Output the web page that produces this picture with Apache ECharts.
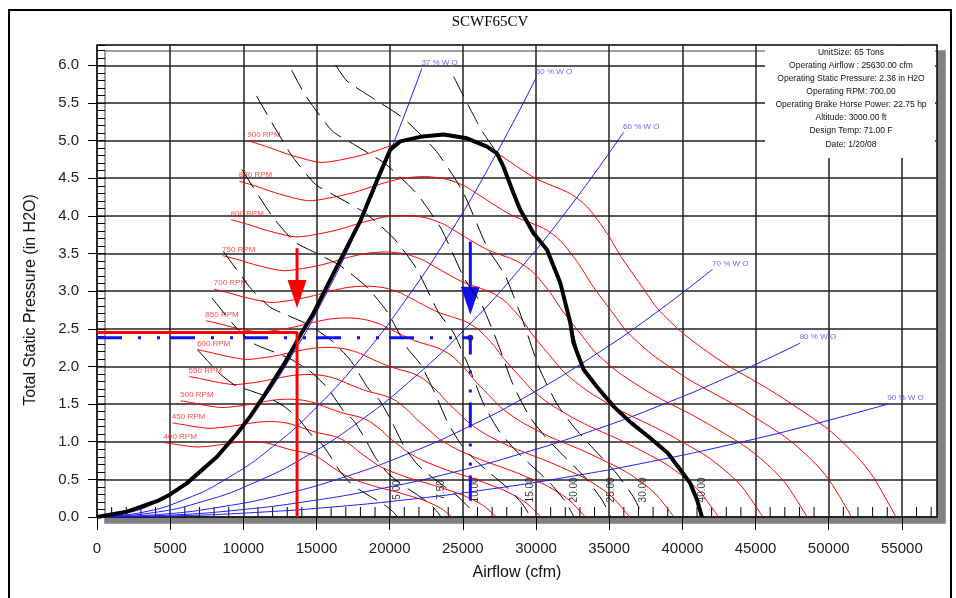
<!DOCTYPE html>
<html><head><meta charset="utf-8">
<script src="https://cdn.jsdelivr.net/npm/echarts@6/dist/echarts.min.js"></script>
<style>html,body{margin:0;padding:0;background:#fff}#c{width:956px;height:598px}</style>
</head><body><div id="c"></div>
<script>
// ---------- axis ticks ----------
const xTickValues = [0,5000,10000,15000,20000,25000,30000,35000,40000,45000,50000,55000];
const xMinorTickValues = [1000,2000,3000,4000,6000,7000,8000,9000,11000,12000,13000,14000,16000,17000,18000,19000,21000,22000,23000,24000,26000,27000,28000,29000,31000,32000,33000,34000,36000,37000,38000,39000,41000,42000,43000,44000,46000,47000,48000,49000,51000,52000,53000,54000,56000,57000];
const yTickValues = [0,0.5,1,1.5,2,2.5,3,3.5,4,4.5,5,5.5,6];

// ---------- fan curves (airflow cfm, static pressure in H2O) ----------
const rpmNames = ['400 RPM','450 RPM','500 RPM','550 RPM','600 RPM','650 RPM','700 RPM','750 RPM','800 RPM','850 RPM','900 RPM'];
const rpm900 = [[10300,5.00],[11600,4.92],[13200,4.81],[15400,4.71],[17300,4.77],[18700,4.84],[20200,4.94],[22000,5.04],[23700,5.07],[25300,5.03],[26700,4.92],[27300,4.84],[29950,4.50],[32300,4.30],[33500,4.12],[34850,3.77],[35800,3.46],[37350,3.03],[38300,2.77],[40100,2.43],[42800,2.05],[45800,1.71],[47250,1.53],[50000,1.16],[51950,0.80],[53050,0.53],[54600,0]];
const rpm850 = [[9728,4.460],[10956,4.389],[12467,4.290],[14544,4.201],[16339,4.255],[17661,4.317],[19078,4.406],[20778,4.496],[22383,4.522],[23894,4.487],[25217,4.389],[25783,4.317],[28286,4.014],[30506,3.836],[31639,3.675],[32914,3.363],[33811,3.086],[35275,2.703],[36172,2.471],[37872,2.168],[40422,1.829],[43256,1.525],[44625,1.365],[47222,1.035],[49064,0.714],[50103,0.473],[51567,0]];
const rpm800 = [[9156,3.951],[10311,3.887],[11733,3.800],[13689,3.721],[15378,3.769],[16622,3.824],[17956,3.903],[19556,3.982],[21067,4.006],[22489,3.974],[23733,3.887],[24267,3.824],[26622,3.556],[28711,3.398],[29778,3.255],[30978,2.979],[31822,2.734],[33200,2.394],[34044,2.189],[35644,1.920],[38044,1.620],[40711,1.351],[42000,1.209],[44444,0.917],[46178,0.632],[47156,0.419],[48533,0]];
const rpm750 = [[8583,3.472],[9667,3.417],[11000,3.340],[12833,3.271],[14417,3.313],[15583,3.361],[16833,3.431],[18333,3.500],[19750,3.521],[21083,3.493],[22250,3.417],[22750,3.361],[24958,3.125],[26917,2.986],[27917,2.861],[29042,2.618],[29833,2.403],[31125,2.104],[31917,1.924],[33417,1.688],[35667,1.424],[38167,1.188],[39375,1.063],[41667,0.806],[43292,0.556],[44208,0.368],[45500,0]];
const rpm700 = [[8011,3.025],[9022,2.976],[10267,2.910],[11978,2.849],[13456,2.886],[14544,2.928],[15711,2.988],[17111,3.049],[18433,3.067],[19678,3.043],[20767,2.976],[21233,2.928],[23294,2.722],[25122,2.601],[26056,2.492],[27106,2.281],[27844,2.093],[29050,1.833],[29789,1.676],[31189,1.470],[33289,1.240],[35622,1.034],[36750,0.926],[38889,0.702],[40406,0.484],[41261,0.321],[42467,0]];
const rpm650 = [[7439,2.608],[8378,2.566],[9533,2.509],[11122,2.457],[12494,2.488],[13506,2.525],[14589,2.577],[15889,2.629],[17117,2.645],[18272,2.624],[19283,2.566],[19717,2.525],[21631,2.347],[23328,2.243],[24194,2.149],[25169,1.966],[25856,1.805],[26975,1.580],[27661,1.445],[28961,1.267],[30911,1.069],[33078,0.892],[34125,0.798],[36111,0.605],[37519,0.417],[38314,0.276],[39433,0]];
const rpm600 = [[6867,2.222],[7733,2.187],[8800,2.138],[10267,2.093],[11533,2.120],[12467,2.151],[13467,2.196],[14667,2.240],[15800,2.253],[16867,2.236],[17800,2.187],[18200,2.151],[19967,2.000],[21533,1.911],[22333,1.831],[23233,1.676],[23867,1.538],[24900,1.347],[25533,1.231],[26733,1.080],[28533,0.911],[30533,0.760],[31500,0.680],[33333,0.516],[34633,0.356],[35367,0.236],[36400,0]];
const rpm550 = [[6294,1.867],[7089,1.837],[8067,1.796],[9411,1.759],[10572,1.781],[11428,1.808],[12344,1.845],[13444,1.882],[14483,1.893],[15461,1.879],[16317,1.837],[16683,1.808],[18303,1.681],[19739,1.606],[20472,1.539],[21297,1.408],[21878,1.292],[22825,1.132],[23406,1.034],[24506,0.908],[26156,0.766],[27989,0.639],[28875,0.571],[30556,0.433],[31747,0.299],[32419,0.198],[33367,0]];
const rpm500 = [[5722,1.543],[6444,1.519],[7333,1.485],[8556,1.454],[9611,1.472],[10389,1.494],[11222,1.525],[12222,1.556],[13167,1.565],[14056,1.552],[14833,1.519],[15167,1.494],[16639,1.389],[17944,1.327],[18611,1.272],[19361,1.164],[19889,1.068],[20750,0.935],[21278,0.855],[22278,0.750],[23778,0.633],[25444,0.528],[26250,0.472],[27778,0.358],[28861,0.247],[29472,0.164],[30333,0]];
const rpm450 = [[5150,1.250],[5800,1.230],[6600,1.203],[7700,1.178],[8650,1.193],[9350,1.210],[10100,1.235],[11000,1.260],[11850,1.268],[12650,1.258],[13350,1.230],[13650,1.210],[14975,1.125],[16150,1.075],[16750,1.030],[17425,0.943],[17900,0.865],[18675,0.758],[19150,0.693],[20050,0.608],[21400,0.513],[22900,0.428],[23625,0.383],[25000,0.290],[25975,0.200],[26525,0.133],[27300,0]];
const rpm400 = [[4578,0.988],[5156,0.972],[5867,0.950],[6844,0.930],[7689,0.942],[8311,0.956],[8978,0.976],[9778,0.996],[10533,1.001],[11244,0.994],[11867,0.972],[12133,0.956],[13311,0.889],[14356,0.849],[14889,0.814],[15489,0.745],[15911,0.683],[16600,0.599],[17022,0.547],[17822,0.480],[19022,0.405],[20356,0.338],[21000,0.302],[22222,0.229],[23089,0.158],[23578,0.105],[24267,0]];

// ---------- operating envelope (thick black) ----------
const envelope = [[0,0],[2050,0.07],[4100,0.21],[5000,0.30],[6150,0.45],[8200,0.80],[9570,1.11],[10490,1.34],[11380,1.60],[12750,2.02],[14000,2.45],[14800,2.71],[16170,3.24],[17990,3.93],[19130,4.47],[20040,4.88],[20720,4.99],[22090,5.05],[23680,5.08],[25280,5.03],[26650,4.92],[27330,4.83],[27780,4.65],[28460,4.30],[28920,4.08],[29830,3.77],[30750,3.55],[31660,3.11],[32340,2.58],[32560,2.31],[33250,1.96],[34160,1.73],[35300,1.47],[36500,1.25],[37800,1.05],[39000,0.85],[39850,0.63],[40530,0.45],[41000,0.23],[41340,0]];

// ---------- system curves (% wide open, blue) ----------
const woNames = ['37 % W O','50 % W O','60 % W O','70 % W O','80 % W O','90 % W O'];
const wo37 = [[0,0],[2220,0.060],[4440,0.238],[6660,0.536],[8880,0.954],[11100,1.490],[13320,2.146],[15540,2.920],[17760,3.814],[19980,4.828],[22200,5.960]];
const wo50 = [[0,0],[3002,0.058],[6004,0.234],[9006,0.526],[12008,0.934],[15010,1.460],[18012,2.102],[21014,2.862],[24016,3.738],[27018,4.730],[30020,5.840]];
const wo60 = [[0,0],[3598,0.051],[7196,0.204],[10794,0.460],[14392,0.818],[17990,1.278],[21588,1.840],[25186,2.504],[28784,3.270],[32382,4.139],[35980,5.110]];
const wo70 = [[0,0],[4206,0.033],[8412,0.132],[12618,0.296],[16824,0.526],[21030,0.823],[25236,1.184],[29442,1.612],[33648,2.106],[37854,2.665],[42060,3.290]];
const wo80 = [[0,0],[4805,0.023],[9610,0.092],[14415,0.208],[19220,0.370],[24025,0.578],[28830,0.832],[33635,1.132],[38440,1.478],[43245,1.871],[48050,2.310]];
const wo90 = [[0,0],[5404,0.015],[10808,0.060],[16212,0.135],[21616,0.240],[27020,0.375],[32424,0.540],[37828,0.735],[43232,0.960],[48636,1.215],[54040,1.500]];

// ---------- brake horsepower lines (dashed) ----------
const bhpNames = ['5.00','7.50','10.00','15.00','20.00','25.00','30.00','40.00'];
const bhp5 = [[6866,2.222],[8329,1.915],[9399,1.754],[10297,1.690],[11514,1.605],[12765,1.471],[13764,1.307],[14681,1.081],[15349,0.971],[15996,0.794],[16628,0.601],[17307,0.453],[17942,0.360],[18604,0.282],[19525,0.177],[20190,0.077],[20541,0]];
const bhp7_5 = [[7856,2.909],[9536,2.510],[10758,2.299],[11788,2.215],[13181,2.103],[14613,1.928],[15756,1.713],[16814,1.418],[17571,1.272],[18310,1.041],[19034,0.787],[19809,0.593],[20544,0.472],[21297,0.370],[22350,0.232],[23114,0.101],[23505,0]];
const bhp10 = [[8648,3.525],[10494,3.040],[11843,2.785],[12975,2.683],[14508,2.548],[16083,2.335],[17342,2.076],[18503,1.718],[19341,1.542],[20154,1.261],[20946,0.953],[21802,0.718],[22611,0.572],[23440,0.448],[24600,0.281],[25443,0.122],[25875,0]];
const bhp15 = [[9898,4.618],[12013,3.984],[13555,3.649],[14855,3.517],[16606,3.339],[18410,3.059],[19851,2.720],[21181,2.250],[22138,2.020],[23071,1.652],[23982,1.249],[24958,0.941],[25885,0.750],[26830,0.587],[28155,0.368],[29119,0.160],[29621,0]];
const bhp20 = [[10895,5.595],[13222,4.826],[14918,4.420],[16349,4.260],[18277,4.044],[20264,3.706],[21849,3.294],[23310,2.726],[24364,2.447],[25395,2.002],[26395,1.513],[27473,1.141],[28492,0.909],[29532,0.711],[30990,0.446],[32048,0.193],[32596,0]];
const bhp25 = [[13300,5.935],[14243,5.600],[16070,5.129],[17611,4.943],[19689,4.693],[21828,4.300],[23536,3.823],[25113,3.164],[26244,2.839],[27357,2.323],[28431,1.756],[29594,1.323],[30692,1.054],[31813,0.825],[33385,0.517],[34520,0.224],[35113,0]];
const bhp30 = [[16300,6.005],[17077,5.792],[18713,5.581],[20921,5.299],[23195,4.856],[25010,4.317],[26685,3.573],[27894,3.207],[29068,2.623],[30212,1.983],[31450,1.495],[32614,1.190],[33805,0.932],[35475,0.584],[36695,0.254],[37314,0]];
const bhp40 = [[24370,5.850],[25500,5.420],[26400,5.100],[27330,4.830],[28460,4.300],[29830,3.770],[30750,3.550],[31660,3.110],[32340,2.580],[33250,1.960],[34160,1.730],[35300,1.470],[36500,1.250],[37800,1.050],[39000,0.850],[39850,0.630],[40530,0.450],[41000,0.230],[41340,0]];

// ---------- operating point guides ----------
const redGuide = [[0,2.45],[13670,2.45],[13670,0]];
const blueGuide = [[0,2.38],[25510,2.38],[25510,0]];
const operatingPoint = [[25510,2.38]];
const redArrow = [[13670,3.571,2.775]];
const blueArrow = [[25510,3.658,2.686]];

const infoLines = ['UnitSize: 65 Tons','Operating Airflow : 25630.00 cfm','Operating Static Pressure: 2.36 in H2O','Operating RPM: 700.00','Operating Brake Horse Power: 22.75 hp','Altitude: 3000.00 ft','Design Temp: 71.00 F','Date: 1/20/08'];

// ---------- build ----------
const FONT = '"Liberation Sans", Arial, sans-serif';
const rpmCurves = [rpm400,rpm450,rpm500,rpm550,rpm600,rpm650,rpm700,rpm750,rpm800,rpm850,rpm900];
const woCurves = [wo37,wo50,wo60,wo70,wo80,wo90];
const bhpLines = [bhp5,bhp7_5,bhp10,bhp15,bhp20,bhp25,bhp30,bhp40];
const BHP_LABEL_Y = 0.36;

const series = [];
// minor x ticks (inside, pointing up)
series.push({type:'custom', silent:true, data:xMinorTickValues.map(v=>[v]), encode:{x:0}, z:1,
  renderItem:function(params, api){
    const p = api.coord([api.value(0), 0]);
    return {type:'line', shape:{x1:p[0], y1:p[1], x2:p[0], y2:p[1]-10}, style:{stroke:'#000', lineWidth:1}};
  }});
rpmCurves.forEach((c,i)=>series.push({type:'line', name:rpmNames[i], data:c, symbol:'none', smooth:0.25, silent:true,
  lineStyle:{color:'#ff0000', width:1}}));
woCurves.forEach((c,i)=>series.push({type:'line', name:woNames[i], data:c, symbol:'none', smooth:true, silent:true,
  lineStyle:{color:'#1c1cff', width:1}}));
bhpLines.forEach((c,i)=>series.push({type:'line', name:'BHP '+bhpNames[i], data:c, symbol:'none', smooth:0.2, silent:true,
  lineStyle:{color:'#000', width:1, type:[22,9]}}));
series.push({type:'line', name:'envelope', data:envelope, symbol:'none', silent:true, lineStyle:{color:'#000', width:4, join:'round'}});
series.push({type:'line', name:'redGuide', data:redGuide, symbol:'none', silent:true, lineStyle:{color:'#ff0000', width:3, cap:'butt'}});
series.push({type:'line', name:'blueGuide', data:blueGuide, symbol:'none', silent:true, lineStyle:{color:'#1010f0', width:3, type:[25,16,3,16,3,10], cap:'butt'}});
series.push({type:'scatter', data:operatingPoint, symbolSize:6, itemStyle:{color:'#000'}, silent:true});
function arrowSeries(data, color){
  return {type:'custom', data:data, silent:true, encode:{x:0, y:[1,2]},
    renderItem:function(params, api){
      const x = api.value(0);
      const p1 = api.coord([x, api.value(1)]);
      const p2 = api.coord([x, api.value(2)]);
      const hh = 28, hw = 9.5;
      return {type:'group', children:[
        {type:'line', shape:{x1:p1[0], y1:p1[1], x2:p2[0], y2:p2[1]-hh+2}, style:{stroke:color, lineWidth:3}},
        {type:'polygon', shape:{points:[[p2[0]-hw,p2[1]-hh],[p2[0]+hw,p2[1]-hh],[p2[0],p2[1]]]}, style:{fill:color}}
      ]};
    }};
}
series.push(arrowSeries(redArrow, '#ff0000'));
series.push(arrowSeries(blueArrow, '#1010f0'));

// labels
series.push({type:'scatter', silent:true, symbolSize:1, itemStyle:{color:'rgba(0,0,0,0)'},
  data: rpmCurves.map((c,i)=>[c[0][0], c[0][1], rpmNames[i]]),
  label:{show:true, position:'right', distance:0, offset:[-1,-6], formatter:p=>p.data[2], color:'#ff1a1a', fontSize:8, fontFamily:FONT}});
series.push({type:'scatter', silent:true, symbolSize:1, itemStyle:{color:'rgba(0,0,0,0)'},
  data: woCurves.map((c,i)=>[c[c.length-1][0], c[c.length-1][1], woNames[i]]),
  label:{show:true, position:'right', distance:0, offset:[-1,-6], formatter:p=>p.data[2], color:'#3c3cff', fontSize:8, fontFamily:FONT}});
series.push({type:'scatter', silent:true, symbolSize:1, itemStyle:{color:'rgba(0,0,0,0)'},
  data: bhpLines.map((c,i)=>[c[c.length-1][0], BHP_LABEL_Y, bhpNames[i]]),
  label:{show:true, position:'inside', rotate:90, formatter:p=>p.data[2], color:'#000', fontSize:10, fontFamily:FONT}});

const graphic = [
  {type:'text', x:490, y:22, z:100, style:{text:'SCWF65CV', font:'15px "Liberation Serif", "Times New Roman", serif', fill:'#000', textAlign:'center', textVerticalAlign:'middle', align:'center', verticalAlign:'middle'}},
  {type:'text', x:31, y:300, rotation:Math.PI/2, z:100, style:{text:'Total Static Pressure (in H2O)', font:'16px '+FONT, fill:'#111', textAlign:'center', textVerticalAlign:'middle', align:'center', verticalAlign:'middle'}},
  {type:'rect', z:100, shape:{x:765, y:46, width:170, height:112}, style:{fill:'#fff'}},
  {type:'rect', z:100, silent:true, shape:{x:9, y:10, width:942, height:600}, style:{fill:'transparent', stroke:'#000', lineWidth:2}}
];
infoLines.forEach((t,i)=>graphic.push({type:'text', x:851, y:52.5+i*13.1, z:101,
  style:{text:t, font:'8.5px '+FONT, fill:'#111', textAlign:'center', textVerticalAlign:'middle', align:'center', verticalAlign:'middle'}}));

const gridLine = {show:true, lineStyle:{color:'#222', width:1.5}};
const option = {
  animation:false,
  backgroundColor:'#fff',
  textStyle:{fontFamily:FONT},
  grid:{left:97, top:45, width:840, height:472, show:true, backgroundColor:'#fff', borderColor:'#000', borderWidth:1.5,
        shadowColor:'#808080', shadowBlur:0, shadowOffsetX:8, shadowOffsetY:6},
  xAxis:[
    {type:'value', min:0, max:57400, interval:5000, position:'bottom',
     axisLine:{show:false},
     axisTick:{show:true, inside:false, length:13, customValues:xTickValues, lineStyle:{color:'#000', width:1}},
     axisLabel:{customValues:xTickValues, formatter:v=>String(v), fontSize:15, color:'#222', margin:24},
     splitLine:gridLine,
     name:'Airflow (cfm)', nameLocation:'middle', nameGap:48, nameTextStyle:{fontSize:16, color:'#111'}}
  ],
  yAxis:[
    {type:'value', min:0, max:6.27, interval:0.5, position:'left',
     axisLine:{show:false},
     axisTick:{show:true, inside:false, length:9, customValues:yTickValues, lineStyle:{color:'#000', width:1}},
     axisLabel:{customValues:yTickValues, formatter:v=>Number(v).toFixed(1), fontSize:15, color:'#222', margin:18},
     splitLine:gridLine},
    {type:'value', min:0, max:6.27, interval:0.1, position:'left',
     axisLine:{show:false}, axisTick:{show:true, inside:true, length:8, lineStyle:{color:'#000', width:1}},
     axisLabel:{show:false}, splitLine:{show:false}}
  ],
  graphic:graphic,
  series:series
};
const chart = echarts.init(document.getElementById('c'), null, {renderer:'canvas'});
chart.setOption(option);
</script>
</body></html>
